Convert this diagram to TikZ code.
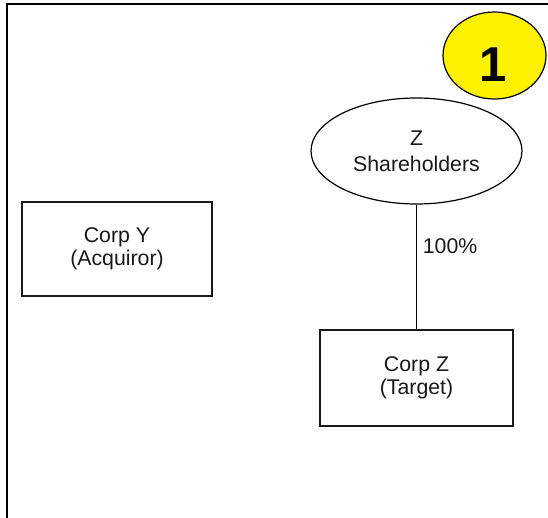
\documentclass[tikz,border=0pt]{standalone}
\usepackage{fontspec}
\setmainfont{Liberation Sans}
\usetikzlibrary{shapes.geometric}
\begin{document}
\begin{tikzpicture}[x=1pt,y=-1pt,
  lbl/.style={font=\fontsize{21.3}{23.5}\selectfont, align=center, text=black!90},
  corpbox/.style={lbl, draw=black!90, line width=1.3pt, fill=white, inner sep=0pt, minimum width=191pt, minimum height=96pt},
  holders/.style={lbl, ellipse, draw=black, line width=1.2pt, fill=white, inner sep=0pt, minimum width=211pt, minimum height=106pt},
  badge/.style={ellipse, draw=black, line width=1.2pt, fill=yellow, inner sep=0pt, minimum width=103pt, minimum height=87pt},
  link/.style={draw=black, line width=1.2pt}]
\useasboundingbox (0,0) rectangle (548,518);
% frame (only its left and top edges fall inside the picture)
\coordinate (fbl) at (6.5,518);
\coordinate (ftl) at (6.5,4.5);
\coordinate (ftr) at (548,4.5);
\draw[line width=2pt] (fbl) -- (ftl) -- (ftr);
% step badge
\node[badge] (badge) at (494.5,55.5) {};
\node[font=\fontsize{49}{49}\selectfont\bfseries, anchor=base, inner sep=0pt] (num) at (493.5,81.7) {1};
% nodes
\node[holders, font=\fontsize{21.3}{26}\selectfont] (zsh) at (416.5,151) {Z\\Shareholders};
\node[corpbox, minimum width=190pt, minimum height=94pt] (corpy) at (117,249) {Corp Y\\(Acquiror)};
\node[corpbox, minimum width=193pt] (corpz) at (416.5,378) {Corp Z\\(Target)};
% connector
\draw[link] (zsh.south) -- (corpz.north);
\node[lbl, anchor=base west, inner sep=0pt] (pct) at (422.7,254) {100\%};
\end{tikzpicture}
\end{document}
